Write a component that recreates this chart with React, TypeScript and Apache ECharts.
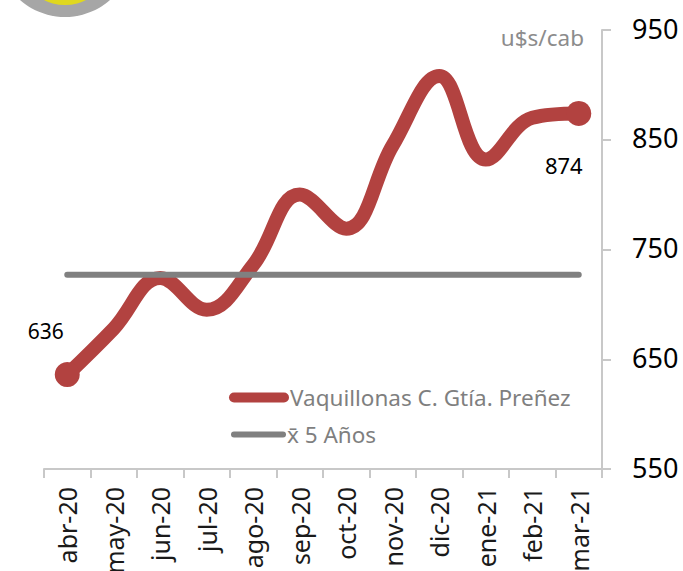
import React, { useEffect, useRef } from "react";
import * as echarts from "echarts";

const categories = ["abr-20","may-20","jun-20","jul-20","ago-20","sep-20","oct-20","nov-20","dic-20","ene-21","feb-21","mar-21"];
const vaquillonas = [636,678,724,695,736,800,769,845,908,832,870,874];
const promedio5 = [727,727,727,727,727,727,727,727,727,727,727,727];
const yTicks = { min: 550, max: 950, interval: 100 };
const FONT = "'Noto Sans', sans-serif";
const RED = "#b24240";
const GREY = "#7f7f7f";
const PILL_RED = "path://M5 0H55A5 5 0 0 1 55 10H5A5 5 0 0 1 5 0Z";
const PILL_GREY = "path://M3 0H52A3 3 0 0 1 52 6H3A3 3 0 0 1 3 0Z";
const NAME_RED = "Vaquillonas C. Gtía. Preñez";
const NAME_GREY = "x̄ 5 Años";

export default function App() {
  const ref = useRef<HTMLDivElement>(null);
  useEffect(() => {
    const chart = echarts.init(ref.current!, undefined, { renderer: "svg" });
    const legendText = { color: GREY, fontFamily: FONT, fontSize: 22.5 };
    chart.setOption({
      animation: false,
      backgroundColor: "#ffffff",
      grid: { left: 44, right: 81, top: 30, bottom: 102, outerBoundsMode: "none" },
      legend: [
        {
          left: 229, top: 386, padding: 0, itemWidth: 60, itemHeight: 10, itemGap: 0,
          textStyle: { ...legendText, padding: [0, 0, 0, -4] },
          data: [{ name: NAME_RED, icon: PILL_RED, itemStyle: { color: RED } }],
        },
        {
          left: 231, top: 423, padding: 0, itemWidth: 55, itemHeight: 6, itemGap: 0,
          textStyle: { ...legendText, padding: [0, 0, 0, -4] },
          data: [{ name: NAME_GREY, icon: PILL_GREY, itemStyle: { color: "#808080" } }],
        },
      ],
      xAxis: {
        type: "category",
        data: categories,
        boundaryGap: true,
        axisLine: { show: true, lineStyle: { color: "#c8c8c8", width: 2 } },
        axisTick: { show: true, alignWithLabel: false, length: 9, lineStyle: { color: "#c8c8c8", width: 2 } },
        axisLabel: { rotate: 90, interval: 0, color: "#1a1a1a", fontFamily: FONT, fontSize: 25, margin: 18 },
      },
      yAxis: {
        type: "value",
        position: "right",
        min: yTicks.min,
        max: yTicks.max,
        interval: yTicks.interval,
        splitLine: { show: false },
        axisLine: { show: true, lineStyle: { color: "#c8c8c8", width: 2 } },
        axisTick: { show: true, length: 9, lineStyle: { color: "#c8c8c8", width: 2 } },
        axisLabel: {
          color: "#000000", fontFamily: FONT, fontSize: 27, margin: 30,
          formatter: (v: number) => `{n|${v}}`,
          rich: { n: { color: "#000000", fontFamily: FONT, fontSize: 27, padding: [0, 0, 4, 0] } },
        },
      },
      series: [
        {
          name: NAME_RED,
          type: "line",
          smooth: 0.4,
          symbol: "none",
          z: 3,
          lineStyle: { color: RED, width: 14, cap: "round", join: "round" },
          itemStyle: { color: RED },
          data: vaquillonas.map((v, i) => {
            if (i === 0) return { value: v, symbol: "circle", symbolSize: 25, label: { show: true, position: "left", offset: [14, -44], color: "#000", fontFamily: FONT, fontSize: 21 } };
            if (i === vaquillonas.length - 1) return { value: v, symbol: "circle", symbolSize: 25, label: { show: true, position: "bottom", offset: [-15, 23], color: "#000", fontFamily: FONT, fontSize: 22 } };
            return v;
          }),
        },
        {
          name: NAME_GREY,
          type: "line",
          symbol: "none",
          z: 4,
          lineStyle: { color: "#808080", width: 6, cap: "round" },
          itemStyle: { color: "#808080" },
          data: promedio5,
        },
      ],
      graphic: [
        { type: "circle", shape: { cx: 65, cy: -51, r: 68 }, style: { fill: "#a6a6a6" } },
        { type: "circle", shape: { cx: 65, cy: -42, r: 47 }, style: { fill: "#e0d81f" } },
        { type: "text", x: 584, y: 37, style: { text: "u$s/cab", fill: "#8c8c8c", font: `22.5px ${FONT}`, align: "right", verticalAlign: "middle" } },
      ],
    });
    return () => chart.dispose();
  }, []);
  return <div ref={ref} style={{ position: "absolute", left: 0, top: 0, width: 683, height: 571 }} />;
}
